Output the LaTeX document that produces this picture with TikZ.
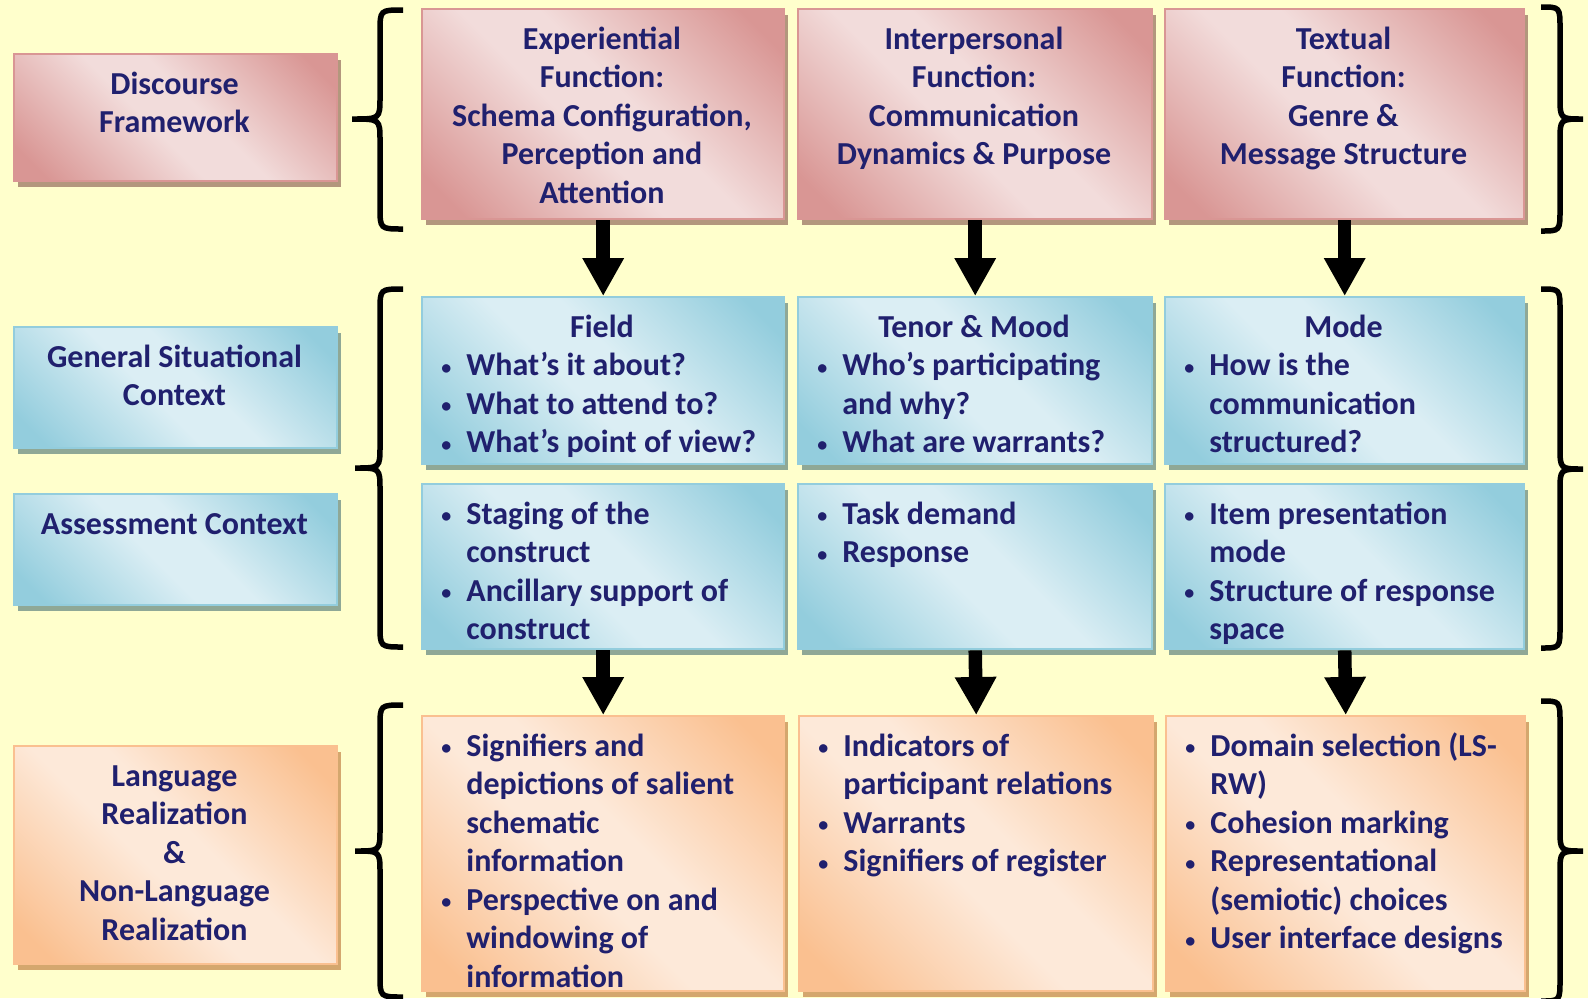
\documentclass[tikz,border=0pt]{standalone}
\usepackage{fontspec}
\setmainfont{Carlito}
\usetikzlibrary{arrows.meta,shadows}
\definecolor{bgc}{HTML}{FFFFCC}
\definecolor{txt}{HTML}{20206E}
\definecolor{pinkD}{HTML}{D99694}
\definecolor{pinkL}{HTML}{F2DCDB}
\definecolor{pinkS}{HTML}{B3977D}
\definecolor{blueD}{HTML}{93CDDD}
\definecolor{blueL}{HTML}{DBEEF4}
\definecolor{blueS}{HTML}{8FA896}
\definecolor{orD}{HTML}{FAC090}
\definecolor{orL}{HTML}{FDE9D9}
\definecolor{orS}{HTML}{D4A76E}
\pgfdeclarehorizontalshading{pinkdiag}{100bp}{color(0bp)=(pinkD); color(20bp)=(pinkD); color(45bp)=(pinkL); color(55bp)=(pinkL); color(80bp)=(pinkD); color(100bp)=(pinkD)}
\pgfdeclarehorizontalshading{bluediag}{100bp}{color(0bp)=(blueD); color(20bp)=(blueD); color(45bp)=(blueL); color(55bp)=(blueL); color(80bp)=(blueD); color(100bp)=(blueD)}
\pgfdeclarehorizontalshading{ordiag}{100bp}{color(0bp)=(orD); color(20bp)=(orD); color(45bp)=(orL); color(55bp)=(orL); color(80bp)=(orD); color(100bp)=(orD)}
\newcommand{\mainf}{\fontsize{16pt}{19.25pt}\selectfont\bfseries}
\newcommand{\fs}{\rule{0pt}{14pt}}
\newcommand{\bul}{\makebox[12.5pt][l]{\raisebox{0.8pt}{\fontsize{10pt}{10pt}\selectfont\textbullet}}}
\newcommand{\ind}{\makebox[12.5pt]{}}
\newcommand{\mkbox}[6]{\node[#2, minimum width=#5*0.5pt, minimum height=#6*0.5pt] (#1) at (#3,#4) {};}
\newcommand{\mybrace}[6]{\draw[bracestyle] (#1,#4) .. controls (#2,#4) .. (#2,#4+22) -- (#2,#5-22) .. controls (#2,#5) .. (#3,#5) .. controls (#2,#5) .. (#2,#5+22) -- (#2,#6-22) .. controls (#2,#6) .. (#1,#6);}
\tikzset{
  boxbase/.style={rectangle, inner sep=0pt, line width=1.2pt, anchor=north west},
  pinkbox/.style={boxbase, draw=pinkD, shading=pinkdiag, shading angle=45,
    drop shadow={shadow xshift=1.75pt, shadow yshift=-3pt, fill=pinkS, opacity=1}},
  bluebox/.style={boxbase, draw=blueD, shading=bluediag, shading angle=45,
    drop shadow={shadow xshift=1.75pt, shadow yshift=-3pt, fill=blueS, opacity=1}},
  orbox/.style={boxbase, draw=orD, shading=ordiag, shading angle=45,
    drop shadow={shadow xshift=1.75pt, shadow yshift=-3pt, fill=orS, opacity=1}},
  ctext/.style={anchor=north, align=center, inner sep=0pt, text=txt, font=\mainf, yshift=-0.5pt},
  ltext/.style={anchor=north west, align=left, inner sep=0pt, text=txt, font=\mainf, yshift=-0.5pt},
  bigarrow/.style={line width=6.75pt, -{Triangle[width=19.5pt,length=19pt]}},
  bracestyle/.style={line width=2.75pt, black}
}
\begin{document}
\begin{tikzpicture}[x=0.5pt,y=-0.5pt]
\fill[bgc] (0,0) rectangle (1588,998);
\useasboundingbox (0,0) rectangle (1588,998);
% left column boxes
\mkbox{df}{pinkbox}{13}{53}{323}{127}
\mkbox{gs}{bluebox}{13}{326}{323}{121}
\mkbox{ac}{bluebox}{13}{493}{323}{111}
\mkbox{lr}{orbox}{13}{745}{323}{218}
% row 1
\mkbox{e1}{pinkbox}{421}{8}{362}{210}
\mkbox{e2}{pinkbox}{797}{8}{354}{210}
\mkbox{e3}{pinkbox}{1164}{8}{359}{210}
% row 2a
\mkbox{f1}{bluebox}{421}{296}{362}{167}
\mkbox{f2}{bluebox}{797}{296}{354}{167}
\mkbox{f3}{bluebox}{1164}{296}{359}{167}
% row 2b
\mkbox{g1}{bluebox}{421}{483}{362}{165}
\mkbox{g2}{bluebox}{797}{483}{354}{165}
\mkbox{g3}{bluebox}{1164}{483}{359}{165}
% row 3
\mkbox{h1}{orbox}{421}{715}{362}{275}
\mkbox{h2}{orbox}{798}{715}{354}{275}
\mkbox{h3}{orbox}{1165}{715}{359}{275}
% arrows
\draw[bigarrow] (e1.south) -- (f1.north);
\draw[bigarrow] (e2.south) -- (f2.north);
\draw[bigarrow] (e3.south) -- (f3.north);
\draw[bigarrow] (g1.south) -- (h1.north);
\draw[bigarrow] (g2.south) -- (h2.north);
\draw[bigarrow] (g3.south) -- (h3.north);
% braces
\mybrace{403}{380}{352}{10}{119}{229}
\mybrace{1541}{1560}{1583}{7}{119}{231}
\mybrace{403}{380}{355}{289}{468}{647}
\mybrace{1541}{1560}{1583}{289}{469}{648}
\mybrace{403}{380}{355}{705}{851}{997}
\mybrace{1541}{1560}{1583}{701}{851}{1001}
% texts
\node[ctext] (tdf) at (174.5,65) {\fs Discourse\\Framework};
\node[ctext] (tgs) at (174.5,338) {\fs General Situational\\Context};
\node[ctext] (tac) at (174.5,505) {\fs Assessment Context};
\node[ctext] (tlr) at (174.5,757) {\fs Language\\Realization\\\&\\Non-Language\\Realization};
\node[ctext] (te1) at (602,20) {\fs Experiential\\Function:\\Schema Configuration,\\Perception and\\Attention};
\node[ctext] (te2) at (974,20) {\fs Interpersonal\\Function:\\Communication\\Dynamics \& Purpose};
\node[ctext] (te3) at (1343.5,20) {\fs Textual\\Function:\\Genre \&\\Message Structure};
\node[ctext] (tf1h) at (602,308) {\fs Field};
\node[ctext] (tf2h) at (974,308) {\fs Tenor \& Mood};
\node[ctext] (tf3h) at (1343.5,308) {\fs Mode};
\node[ltext] (tf1) at (441,346.5) {\fs\bul What’s it about?\\\bul What to attend to?\\\bul What’s point of view?};
\node[ltext] (tf2) at (817,346.5) {\fs\bul Who’s participating\\\ind and why?\\\bul What are warrants?};
\node[ltext] (tf3) at (1184,346.5) {\fs\bul How is the\\\ind communication\\\ind structured?};
\node[ltext] (tg1) at (441,495) {\fs\bul Staging of the\\\ind construct\\\bul Ancillary support of\\\ind construct};
\node[ltext] (tg2) at (817,495) {\fs\bul Task demand\\\bul Response};
\node[ltext] (tg3) at (1184,495) {\fs\bul Item presentation\\\ind mode\\\bul Structure of response\\\ind space};
\node[ltext] (th1) at (441,727) {\fs\bul Signifiers and\\\ind depictions of salient\\\ind schematic\\\ind information\\\bul Perspective on and\\\ind windowing of\\\ind information};
\node[ltext] (th2) at (818,727) {\fs\bul Indicators of\\\ind participant relations\\\bul Warrants\\\bul Signifiers of register};
\node[ltext] (th3) at (1185,727) {\fs\bul Domain selection (LS-\\\ind RW)\\\bul Cohesion marking\\\bul Representational\\\ind (semiotic) choices\\\bul User interface designs};
\end{tikzpicture}
\end{document}
